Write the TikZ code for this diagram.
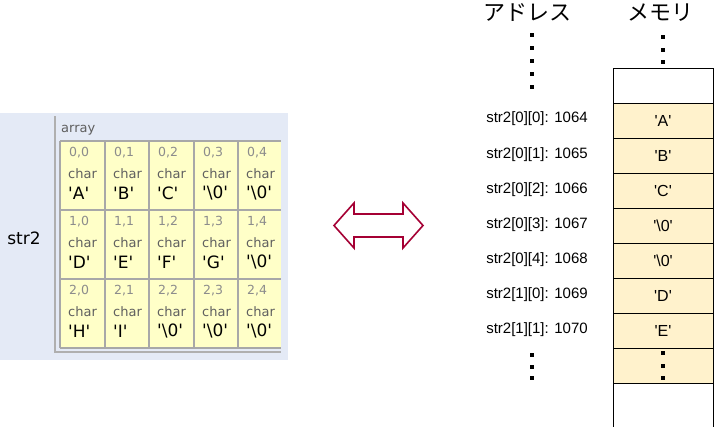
\documentclass[tikz,border=0pt]{standalone}
\usepackage{fontspec}
\setmainfont{Liberation Sans}
\newfontfamily\dvfont{DejaVu Sans}
\newfontfamily\jpfont{Noto Sans CJK JP}
\definecolor{panelbg}{RGB}{228,234,246}
\definecolor{gridfill}{RGB}{255,255,200}
\definecolor{gridline}{RGB}{168,168,168}
\definecolor{framegrey}{RGB}{175,175,175}
\definecolor{idxgrey}{RGB}{140,140,140}
\definecolor{labgrey}{RGB}{95,95,95}
\definecolor{memfill}{RGB}{255,242,204}
\definecolor{arrowred}{RGB}{165,0,52}
\newcommand\sq{\textquotesingle}
\newcommand\nul{\textbackslash0}
\begin{document}
\begin{tikzpicture}[x=1pt,y=-1pt,
  idxtext/.style={anchor=west,inner sep=0pt,text=idxgrey,font=\dvfont\fontsize{12.5}{14}\selectfont},
  typtext/.style={anchor=west,inner sep=0pt,text=labgrey,font=\dvfont\fontsize{13}{15}\selectfont},
  valtext/.style={anchor=west,inner sep=0pt,text=black,font=\dvfont\fontsize{17}{19}\selectfont},
  memcell/.style={draw=black,line width=1pt,fill=memfill,minimum width=100pt,minimum height=35pt,inner sep=0pt,font=\fontsize{16}{18}\selectfont},
  emptycell/.style={memcell,fill=white},
  addrtext/.style={inner sep=0pt,font=\fontsize{15}{17}\selectfont},
  hdrtext/.style={inner sep=0pt,font=\jpfont\fontsize{22}{24}\selectfont},
  dotsq/.style={fill=black,minimum size=4pt,inner sep=0pt,draw=none}
]
\useasboundingbox (0,0) rectangle (723,426);
% left panel
\fill[panelbg] (0,113) rectangle (288,360);
\fill[gridfill] (60,141) rectangle (281,348);
\draw[framegrey,line width=1.3pt] (55,116) -- (55,352) -- (281,352);
\begin{scope}[gridline,line width=1.5pt]
  \foreach \ya in {141,210,279,348} \draw (60,\ya) -- (281,\ya);
  \foreach \xa in {60,105,149,194,238} \draw (\xa,141) -- (\xa,348);
\end{scope}
\node[anchor=west,inner sep=0pt,text=labgrey,font=\dvfont\fontsize{13}{15}\selectfont] (arr) at (61,130.5) {array};
\node[inner sep=0pt,font=\dvfont\fontsize{17}{19}\selectfont] (str) at (24,238) {str2};
\foreach \r/\ya in {0/141,1/210,2/279}{
  \foreach \c/\xa in {0/60,1/105,2/149,3/194,4/238}{
    \node[idxtext] (idx-\r-\c) at (\xa+9,\ya+12) {\r,\c};
    \node[typtext] (typ-\r-\c) at (\xa+8,\ya+32.5) {char};
  }
}
\foreach \c/\xa/\v in {0/60/A,1/105/B,2/149/C,3/194/\nul,4/238/\nul}
  \node[valtext] (val-0-\c) at (\xa+8,193) {\sq\v\sq};
\foreach \c/\xa/\v in {0/60/D,1/105/E,2/149/F,3/194/G,4/238/\nul}
  \node[valtext] (val-1-\c) at (\xa+8,262) {\sq\v\sq};
\foreach \c/\xa/\v in {0/60/H,1/105/I,2/149/\nul,3/194/\nul,4/238/\nul}
  \node[valtext] (val-2-\c) at (\xa+8,331) {\sq\v\sq};
% double arrow
\draw[arrowred,line width=1.6pt,line join=miter,fill=white]
  (334,225.5) -- (354,203) -- (354,214) -- (403,214) -- (403,203) -- (423,225.5)
  -- (403,248) -- (403,237) -- (354,237) -- (354,248) -- cycle;
% headers
\node[hdrtext] (hadr) at (527,13) {アドレス};
\node[hdrtext] (hmem) at (660,13) {メモリ};
\foreach \i/\yy in {1/35,2/48,3/61,4/74,5/87} \node[dotsq] (ad\i) at (532,\yy) {};
\foreach \i/\yy in {1/37,2/49.5,3/62} \node[dotsq] (md\i) at (663,\yy) {};
% memory column
\node[emptycell] (m0) at (663,85.5) {};
\node[memcell] (m1) at (663,120.5) {\sq A\sq};
\node[memcell] (m2) at (663,155.5) {\sq B\sq};
\node[memcell] (m3) at (663,190.5) {\sq C\sq};
\node[memcell] (m4) at (663,225.5) {\sq\nul\sq};
\node[memcell] (m5) at (663,260.5) {\sq\nul\sq};
\node[memcell] (m6) at (663,295.5) {\sq D\sq};
\node[memcell] (m7) at (663,330.5) {\sq E\sq};
\node[memcell] (m8) at (663,365.5) {};
\draw[black,line width=1pt] (613,383) -- (613,426.5);
\draw[black,line width=1pt] (713,383) -- (713,426.5);
\foreach \i/\yy in {1/353,2/366,3/378} \node[dotsq] (mb\i) at (663,\yy) {};
% address labels
\node[addrtext] (a0) at (537,119) {str2[0][0]: 1064};
\node[addrtext] (a1) at (537,154.5) {str2[0][1]: 1065};
\node[addrtext] (a2) at (537,189.5) {str2[0][2]: 1066};
\node[addrtext] (a3) at (537,224.5) {str2[0][3]: 1067};
\node[addrtext] (a4) at (537,259.5) {str2[0][4]: 1068};
\node[addrtext] (a5) at (537,294.5) {str2[1][0]: 1069};
\node[addrtext] (a6) at (537,329.5) {str2[1][1]: 1070};
\foreach \i/\yy in {1/355,2/367,3/378} \node[dotsq] (ab\i) at (532,\yy) {};
\end{tikzpicture}
\end{document}
